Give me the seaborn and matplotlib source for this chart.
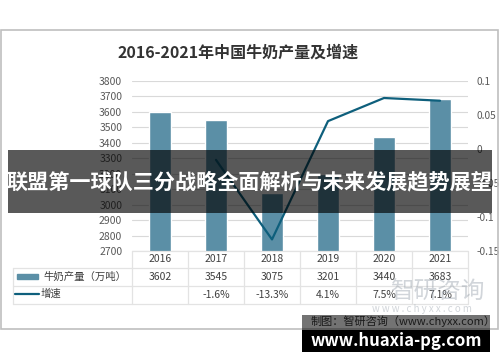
import numpy as np
import pandas as pd
import matplotlib
matplotlib.use("Agg")
import matplotlib.pyplot as plt
import matplotlib.transforms as mtransforms
from matplotlib.patches import Rectangle
import seaborn as sns

years = ["2016", "2017", "2018", "2019", "2020", "2021"]
output = [3602, 3545, 3075, 3201, 3440, 3683]  # 牛奶产量（万吨）
growth = [None, -0.016, -0.133, 0.041, 0.075, 0.071]  # 增速
growth_labels = ["", "-1.6%", "-13.3%", "4.1%", "7.5%", "7.1%"]

bar_color = "#5b8fa6"
line_color = "#0e5f7c"
grid_color = "#d9d9d9"
text_gray = "#595959"

sns.set_theme(style="white")
plt.rcParams['font.family'] = ['Noto Sans CJK SC', 'DejaVu Sans']

W, H = 500, 362
fig = plt.figure(figsize=(W / 100, H / 100), dpi=100)


def fy(py):
    # pixel row from top -> figure fraction
    return 1 - py / H


def fx(px):
    return px / W


ax = fig.add_axes([fx(132), fy(251), fx(468) - fx(132), fy(81) - fy(251)])

df = pd.DataFrame({"year": years, "output": output})
sns.barplot(data=df, x="year", y="output", color=bar_color, width=0.4,
            saturation=1, ax=ax, zorder=2)
ax.set_xlim(-0.5, 5.5)
ax.set_ylim(2700, 3800)
ax.set_yticks(np.arange(2700, 3801, 100))
ax.yaxis.grid(True, color=grid_color, lw=0.8, zorder=0)
ax.set_axisbelow(True)
ax.tick_params(axis="y", labelsize=7.5, labelcolor=text_gray, length=0, pad=7)
ax.set_xticks([])
ax.set_xlabel("")
ax.set_ylabel("")
for s in ax.spines.values():
    s.set_visible(False)

ax2 = ax.twinx()
gdf = pd.DataFrame({"x": np.arange(len(years))[1:], "g": growth[1:]})
sns.lineplot(data=gdf, x="x", y="g", color=line_color, lw=1.6, ax=ax2, zorder=3)
ax2.set_ylim(-0.15, 0.1)
gticks = np.round(np.arange(-0.15, 0.1001, 0.05), 2)
ax2.set_yticks(gticks)
ax2.set_yticklabels([f"{v:g}" for v in gticks])
ax2.tick_params(axis="y", labelsize=7.3, labelcolor=text_gray, length=0, pad=6)
ax2.set_xlabel("")
ax2.set_ylabel("")
ax2.set_xlim(-0.5, 5.5)
for s in ax2.spines.values():
    s.set_visible(False)

# title
fig.text(fx(238), fy(53), "2016-2021年中国牛奶产量及增速", ha="center", va="center",
         fontsize=11.5, fontweight="bold", color="#333333")

# outer border
fig.patches.append(Rectangle((fx(1), fy(329)), fx(497), fy(30) - fy(329),
                             transform=fig.transFigure, fill=False,
                             ec="#bfbfbf", lw=1.2))

# data table under the axis
tr = mtransforms.blended_transform_factory(ax.transData, fig.transFigure)
tcol = "#e3e3e3"
left = -0.5 - (132 - 13) / 56
rows = [251, 268, 286, 304]
ax.plot([-0.5, 5.5], [fy(251)] * 2, transform=tr, color=tcol, lw=0.9, clip_on=False)
for r in rows[1:]:
    ax.plot([left, 5.5], [fy(r)] * 2, transform=tr, color=tcol, lw=0.9, clip_on=False)
for i in range(len(years) + 1):
    ax.plot([i - 0.5] * 2, [fy(251), fy(304)], transform=tr, color=tcol, lw=0.9,
            clip_on=False)
ax.plot([left] * 2, [fy(268), fy(304)], transform=tr, color=tcol, lw=0.9, clip_on=False)

for i, y in enumerate(years):
    ax.text(i, fy(259.5), y, transform=tr, ha="center", va="center",
            fontsize=7.5, color="#404040")
    ax.text(i, fy(277), str(output[i]), transform=tr, ha="center", va="center",
            fontsize=7.5, color="#404040")
    ax.text(i, fy(295), growth_labels[i], transform=tr, ha="center", va="center",
            fontsize=7.5, color="#404040")

# legend keys inside the table
fig.patches.append(Rectangle((fx(17), fy(279)), fx(21), fy(274) - fy(279),
                             transform=fig.transFigure, color=bar_color))
fig.lines.append(plt.Line2D([fx(15), fx(39)], [fy(294)] * 2, transform=fig.transFigure,
                            color=line_color, lw=1.6))
fig.text(fx(43), fy(277), "牛奶产量（万吨）", ha="left", va="center",
         fontsize=7.5, color="#404040")
fig.text(fx(41), fy(294), "增速", ha="left", va="center", fontsize=7.5, color="#404040")

# watermark
fig.text(fx(437), fy(292), "智研咨询", ha="center", va="center", fontsize=17,
         color="#9aa3ad", alpha=0.45)
fig.text(fx(422), fy(309), "w w w . c h y x x . c o m", ha="center", va="center",
         fontsize=7, color="#9aa3ad", alpha=0.45)

# source line and bottom box
fig.text(fx(496), fy(321), "制图：智研咨询（www.chyxx.com）", ha="right", va="center",
         fontsize=8, color="#1a1a1a")
fig.patches.append(Rectangle((fx(302), fy(330)), fx(188), fy(315) - fy(330),
                             transform=fig.transFigure, color="black", alpha=0.55, lw=0))
fig.patches.append(Rectangle((fx(302), fy(352)), fx(188), fy(330) - fy(352),
                             transform=fig.transFigure, color="black", lw=0))
fig.text(fx(396), fy(341), "www.huaxia-pg.com", ha="center", va="center",
         fontsize=12, fontweight="bold", color="white")

# banner across the middle
fig.patches.append(Rectangle((fx(8), fy(213)), fx(484), fy(150) - fy(213),
                             transform=fig.transFigure, color="black", alpha=0.65, lw=0))
fig.text(fx(249), fy(182), "联盟第一球队三分战略全面解析与未来发展趋势展望",
         ha="center", va="center", fontsize=15.2, fontweight="bold", color="white")

fig.savefig("out.png", dpi=100)
